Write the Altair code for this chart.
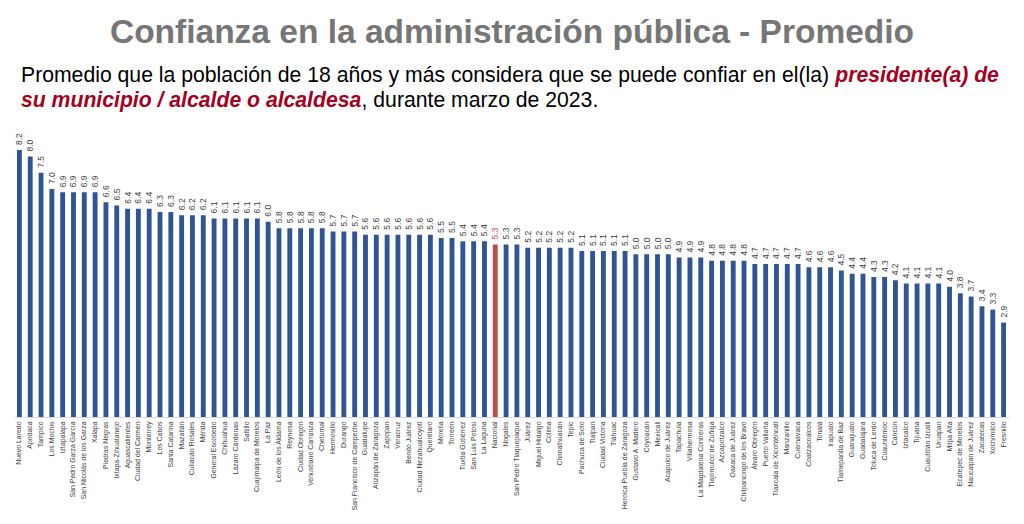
import altair as alt
import pandas as pd

municipios = [
    "Nuevo Laredo", "Apodaca", "Tampico", "Los Mochis", "Iztapalapa",
    "San Pedro Garza García", "San Nicolás de los Garza", "Xalapa", "Piedras Negras",
    "Ixtapa-Zihuatanejo", "Aguascalientes", "Ciudad del Carmen", "Monterrey",
    "Los Cabos", "Santa Catarina", "Mazatlán", "Culiacán Rosales", "Mérida",
    "General Escobedo", "Chihuahua", "Lázaro Cárdenas", "Saltillo",
    "Cuajimalpa de Morelos", "La Paz", "León de los Aldama", "Reynosa",
    "Ciudad Obregón", "Venustiano Carranza", "Chetumal", "Hermosillo", "Durango",
    "San Francisco de Campeche", "Guadalupe", "Atizapán de Zaragoza", "Zapopan",
    "Veracruz", "Benito Juárez", "Ciudad Nezahualcóyotl", "Querétaro", "Morelia",
    "Torreón", "Tuxtla Gutiérrez", "San Luis Potosí", "La Laguna", "Nacional",
    "Nogales", "San Pedro Tlaquepaque", "Juárez", "Miguel Hidalgo", "Colima",
    "Chimalhuacán", "Tepic", "Pachuca de Soto", "Tlalpan", "Ciudad Victoria",
    "Tláhuac", "Heroica Puebla de Zaragoza", "Gustavo A. Madero", "Coyoacán",
    "Mexicali", "Acapulco de Juárez", "Tapachula", "Villahermosa",
    "La Magdalena Contreras", "Tlajomulco de Zúñiga", "Azcapotzalco",
    "Oaxaca de Juárez", "Chilpancingo de los Bravo", "Álvaro Obregón",
    "Puerto Vallarta", "Tlaxcala de Xicohténcatl", "Manzanillo", "Cuernavaca",
    "Coatzacoalcos", "Tonalá", "Irapuato", "Tlalnepantla de Baz", "Guanajuato",
    "Guadalajara", "Toluca de Lerdo", "Cuauhtémoc", "Cancún", "Iztacalco",
    "Tijuana", "Cuautitlán Izcalli", "Uruapan", "Milpa Alta",
    "Ecatepec de Morelos", "Naucalpan de Juárez", "Zacatecas", "Xochimilco",
    "Fresnillo",
]

promedio = [
    8.2, 8.0, 7.5, 7.0, 6.9, 6.9, 6.9, 6.9, 6.6, 6.5, 6.4, 6.4, 6.4, 6.3, 6.3,
    6.2, 6.2, 6.2, 6.1, 6.1, 6.1, 6.1, 6.1, 6.0, 5.8, 5.8, 5.8, 5.8, 5.8, 5.7,
    5.7, 5.7, 5.6, 5.6, 5.6, 5.6, 5.6, 5.6, 5.6, 5.5, 5.5, 5.4, 5.4, 5.4, 5.3,
    5.3, 5.3, 5.2, 5.2, 5.2, 5.2, 5.2, 5.1, 5.1, 5.1, 5.1, 5.1, 5.0, 5.0, 5.0,
    5.0, 4.9, 4.9, 4.9, 4.8, 4.8, 4.8, 4.8, 4.7, 4.7, 4.7, 4.7, 4.7, 4.6, 4.6,
    4.6, 4.5, 4.4, 4.4, 4.3, 4.3, 4.2, 4.1, 4.1, 4.1, 4.1, 4.0, 3.8, 3.7, 3.4,
    3.3, 2.9,
]

titulo = "Confianza en la administración pública - Promedio"
sub1_normal = "Promedio que la población de 18 años y más considera que se puede confiar en el(la) "
sub1_red = "presidente(a) de"
sub2_red = "su municipio / alcalde o alcaldesa"
sub2_normal = ", durante marzo de 2023."

df = pd.DataFrame({"municipio": municipios, "promedio": promedio})

FONT = "Liberation Sans"
BLUE = "#2F5597"
RED = "#BE4B48"
SUBRED = "#A50021"
FS = 21.2

x_enc = alt.X(
    "municipio:N",
    sort=None,
    scale=alt.Scale(paddingInner=0.55, paddingOuter=0.275),
    axis=alt.Axis(
        title=None, labelAngle=-90, labelFontSize=6.9, labelFont=FONT,
        labelColor="#404040", ticks=False, domainColor="#D9D9D9",
        labelPadding=4, labelLimit=200,
    ),
)
y_enc = alt.Y("promedio:Q", scale=alt.Scale(domain=[0, 9]), axis=None)

base = alt.Chart(df)

bars = base.mark_bar().encode(
    x=x_enc,
    y=y_enc,
    color=alt.condition(alt.datum.municipio == "Nacional", alt.value(RED), alt.value(BLUE)),
)

labels = base.mark_text(
    angle=270, align="left", baseline="middle", dx=5, fontSize=8.5, font=FONT,
).encode(
    x=x_enc,
    y=y_enc,
    text=alt.Text("promedio:Q", format=".1f"),
    color=alt.condition(alt.datum.municipio == "Nacional", alt.value(RED), alt.value("#404040")),
)

one = pd.DataFrame({"k": [0]})

def header(text, x, y, size, color, bold=False, italic=False, align="left"):
    kw = dict(align=align, baseline="alphabetic", fontSize=size, font=FONT, color=color)
    if bold:
        kw["fontWeight"] = "bold"
    if italic:
        kw["fontStyle"] = "italic"
    return alt.Chart(one).mark_text(**kw).encode(
        x=alt.value(x), y=alt.value(y), text=alt.value(text)
    )

w1 = 38.408 * FS
w2 = 16.063 * FS

t_title = header(titulo, 498, -81, 33.5, "#767676", bold=True, align="center")
t_s1 = header(sub1_normal, 7, -42, FS, "#000000")
t_s1r = header(sub1_red, 7 + w1, -42, FS, SUBRED, bold=True, italic=True)
t_s2r = header(sub2_red, 7, -17, FS, SUBRED, bold=True, italic=True)
t_s2 = header(sub2_normal, 7 + w2, -17, FS, "#000000")

chart = alt.layer(bars, labels, t_title, t_s1, t_s1r, t_s2r, t_s2).properties(
    width=995,
    height=293,
    autosize=alt.AutoSizeParams(type="none"),
    padding={"left": 6, "top": 116, "right": 0, "bottom": 99},
    background="white",
).configure_view(stroke=None)

chart.save("out.html", embed_options={"renderer": "svg", "actions": False})
